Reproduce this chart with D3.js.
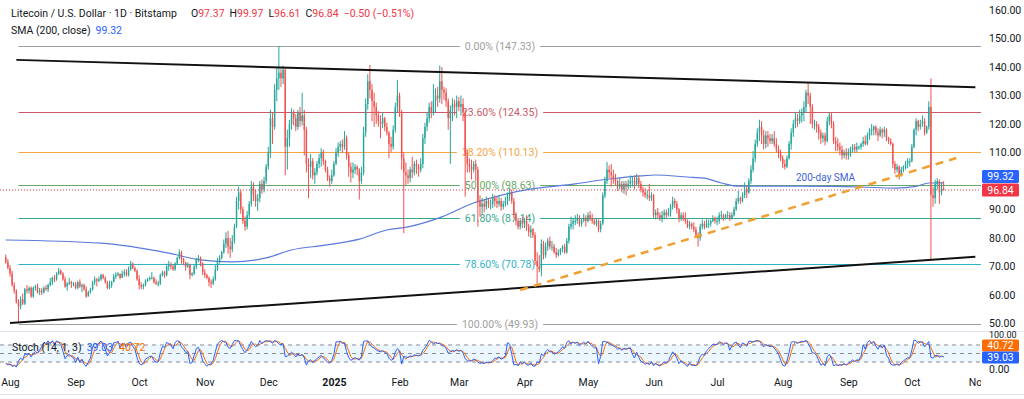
<!DOCTYPE html>
<html>
<head>
<meta charset="utf-8">
<script src="https://cdn.jsdelivr.net/npm/d3@7"></script>
<style>
  html, body { margin: 0; padding: 0; background: #fff; }
  svg { display: block; font-family: Roboto, "Liberation Sans", sans-serif; }
</style>
</head>
<body>
<svg id="chart" width="1024" height="399"></svg>
<script>
// daily candles, one array per month, rows are [high, low, close]; open = previous close
const firstOpen = 73.3;
const jul24 = [[74.2,71,71.5],[72.6,69,69.5]];
const aug24 = [[70.5,66.5,67.5],[68.5,63,63.5],[64.5,60.5,61.5],[62,57,57.5],[58.5,50.5,56],[59.5,55,58.5],[60.5,56.5,57],[62.5,56.5,62],[63.5,60.5,61.5],[63,60.5,62.5],[63,59,59.5],[63,59,62.5],[63.5,61.5,63],[64,60.5,61],[62.5,60,61.5],[62.5,60,61],[63,60.5,62.5],[63.5,61.5,62],[64,61,63.5],[66,63,64.5],[66.5,63.5,66],[67,64.5,65.5],[68,65,67.5],[69.5,67,68.5],[69,67,67.5],[68,65,65.5],[66.5,62.5,63],[64.5,61.5,64],[66,63.5,64.5],[65,62.5,64],[64.5,63,64]];
const sep24 = [[64.5,62,62.5],[65,62,64.5],[65.5,62.5,63],[64,61,63.5],[64,61.5,62],[63,59,59.5],[61.5,59.5,61],[62.5,60.5,62],[65,61.5,64.5],[66.5,63.5,65.5],[66,63,65],[66.5,64.5,65.5],[67.5,65,67],[67.5,65.5,66],[66.5,64,64.5],[65,62,62.5],[65,62,63.5],[65,62.5,64.5],[67.5,64.5,66.5],[68,65.5,67],[68,66.5,67.5],[67.5,65.5,66],[68.5,66,67.5],[69,66.5,68],[69,66.5,67],[70,66.5,69],[72,68.5,71],[71.5,69,69.5],[70,68,68.5],[69,65,65.5]];
const oct24 = [[67,62,63.5],[64.5,62,63],[64,62,63.5],[65.5,63,65],[66,64.5,65.5],[66.5,65,66],[68,65.5,66],[66.5,64,64.5],[65.5,63.5,64],[65,63,64],[67.5,63.5,67],[68.5,66.5,68],[68.5,66,67],[71,66.5,70],[72,68.5,70.5],[71.5,69,70],[70.5,68.5,69],[71.5,68.5,71],[73.5,70.5,73],[76,72.5,75],[75.5,71,72.5],[73,70.5,71.5],[71.5,68.5,70],[71.5,69.5,70.5],[71,65.5,67],[68,66.5,67.5],[70.5,67,70],[73,69,72.5],[74,71.5,73],[73.5,70,71],[71.5,67,68]];
const nov24 = [[69,66,67],[67.5,65.5,66],[66.5,63,64.5],[65.5,62.5,64],[66.5,63.5,65.5],[70.5,65,69],[73,68.5,72],[74,71,73],[75.5,72.5,75],[79.5,74.5,78],[82,76.5,80],[82.5,74.5,77],[80,73,76],[81,75,79],[85,78,84],[94.5,83.5,93],[98,90,96],[97,88.5,90],[91,85,86],[87.5,82.5,84],[89.5,83,88],[93,87,92],[100,91,98],[99.5,93,95],[97,91,93],[95.5,89.5,94],[100,92.5,99],[100.5,95.5,97],[101.5,96,100],[106,99,105]];
const dec24 = [[112,104,110],[125,108,122],[124,113,119],[134,118,132],[140,128,136],[147.33,132,138],[139.5,133,136],[140.5,134,139],[139.5,102,112],[118,104,115],[121.5,112,120],[125.5,118,124],[125,119.5,122],[123.5,117.5,119],[125,118,124],[126,119,121],[131,119.5,123],[125,109,118],[119,103,106],[108,94,105],[109.5,101,107],[108,100.5,102],[104.5,99,103],[107,102,106],[109.5,104.5,108],[111.5,105,110],[111,105.5,107],[107.5,103,104],[105,100,101],[102,98,100],[104,99,102]];
const jan25 = [[107,101.5,106],[111.5,105.5,110],[113.5,108.5,112],[114,110.5,113],[114.5,110,112],[117.5,111,115],[116,107.5,109],[110,101.5,105],[106.5,99.5,103],[106.5,101,104],[106,102.5,105],[105.5,102,104],[104.5,93.5,100],[105,99,103],[119,102,117],[129,115.5,127],[137.5,125,135],[140.7,129,132],[134,121,128],[131,119,126],[127.5,120,123],[124.5,119,121],[123,115,120],[124,118.5,122],[122.5,117.5,119],[120.5,116,117],[117.5,108,113],[115.5,110,112],[119.5,111,118],[127.5,117,126],[135.5,124,130]];
const feb25 = [[131,122.5,124],[125,104,108],[110,81.7,103],[106.5,98.5,102],[104,99,101],[105,99.5,104],[108.5,101,103],[107,102,106],[107.5,102.5,105],[106,101.5,104],[108,103,106],[116.5,104.5,115],[120.5,113,119],[124,117.5,122],[127.5,120.5,126],[128,122,124],[134,123,128],[132.5,124,130],[133,126,129],[140.5,127.5,135],[140,127,132],[133,128.5,131],[132.5,126,128],[129,118,122],[126.5,106,125],[129,121,127],[128.5,123,126],[130,122,128]];
const mar25 = [[129.5,124.5,126],[130,123,127],[129,121,124],[125,94.5,109],[111,103,106],[108,103,105],[107.5,100.5,104],[107,103,106],[107.5,100,104],[105,84,93],[95,87.5,91],[94,88.5,92],[93.5,89,91],[94.5,90,93],[94,90.5,92],[93.5,90,92],[95.5,90.5,94],[95,91,93],[94.5,90.5,92],[95,91,93],[94,89.5,91],[93,90,92],[94.5,91,93],[96,91.5,95],[97.5,93,96],[97,92,93],[94,87,88],[89,84.5,86],[87,83,84],[87,83,86],[87.5,83.5,85]];
const apr25 = [[87,83.5,86],[88,82.5,84],[85,80.5,82],[84.5,80,83],[83.5,80,81],[82,70.5,72],[75,63,70],[74,68,69],[79.5,66.5,78],[79,72.5,74],[78.5,73,77],[80,75.5,79],[80.5,76,77],[79,75.5,77],[78,74.5,75],[76.5,73,74],[76,73.5,75],[76.5,74,76],[77.5,75,77],[78,74.5,75],[80,74.5,79],[85,78,84],[87.5,83,85],[87,83,86],[88,84.5,86],[88.5,85,87],[88,84,85],[87,84,86],[88.5,85.5,87],[88,84,86]];
const may25 = [[89,85.5,88],[89.5,86,87],[88.5,85,86],[87,84.5,85],[87,84,86],[86.5,82,83],[86,82,85],[96,84.5,95],[101.5,94,100],[106.7,99,104],[105.5,101,103],[106,98,102],[104,99,101],[102.5,98.5,100],[100.5,96.5,98],[101,97,99],[100,96,97],[100,95.5,99],[100,95,98],[100.5,97,99],[102,97.5,100],[101.5,98,100],[102,97,99],[102.5,98.5,101],[102,97.5,99],[100,96,97],[98,94.5,96],[97.5,94,95],[97,93.5,95],[99,93,94],[96,93,95]];
const jun25 = [[95.5,87,88],[90,86.5,89],[90.5,87,88],[89,86,87],[89.5,85.5,88],[90,86.5,89],[90,87,88],[90.5,87.5,89],[92,87.5,91],[94.5,90,93],[94,90.5,92],[93,88.5,90],[90.5,85.5,87],[89,86,88],[89,86,87],[89,85,86],[86.5,83.5,84],[86,83,85],[85.5,83,84],[85.5,82,83],[84,80,81],[82,77,80],[85,79,84],[86.5,83,85],[86,83,84],[86.5,83.5,85],[86.5,83.5,85],[86.5,84,86],[88,85.5,87],[87.5,85,86]];
const jul25 = [[87.5,84.5,86],[89,85,88],[89.5,86.5,88],[88.5,86,87],[88.5,86.5,88],[89.5,87,88],[89,86,87],[89,86.5,88],[91,87.5,90],[94,89.5,93],[96.5,92,94],[94.5,92,93],[96,92.5,95],[99.5,94,97],[98.5,94,96],[101,95.5,100],[105.5,99,104],[110.5,103,108],[114.5,106.5,113],[118.5,112,117],[121.5,114,119],[121,113,116],[118,111,113],[117.5,111.5,116],[117.5,112,115],[116.5,113,114],[116.5,113,115],[117.5,112,113],[115,110,111],[112.5,108,110],[111,107,108]];
const aug25 = [[109,104.5,106],[107.5,104,105],[109,104.5,108],[114,107.5,113],[118.5,111,117],[121.5,115.5,120],[124,118.5,122],[123.5,119,121],[125,120,123],[125.5,120.5,124],[128,121,126],[132,124,131],[134.7,127,130],[131,120,126],[127,118.5,120],[121.5,118,120],[121,117,119],[120,114.5,117],[118,113,115],[117,113.5,116],[117,112.5,114],[122.5,113.5,121],[124,119.5,123],[124,118.5,120],[121,113,114],[115.5,110.5,113],[115,110.5,112],[113.5,109,111],[112.5,107.5,109],[111,108,110],[111.5,107.5,109]];
const sep25 = [[111.5,107.5,110],[112,108.5,111],[113,110,112],[113,110,111],[113.5,110,112],[112.5,111,112],[113.5,111,113],[115.5,112,114],[116,112.5,113],[117,112.5,116],[118.5,114.5,118],[120,116,118],[119.5,116,119],[119.5,116,117],[118.5,114,116],[119,115.5,118],[118.5,115,117],[119,115.5,118],[118.5,114,115],[115.5,113,114],[115,112.5,113],[113.5,104.5,106],[107,102.5,104],[106,103,105],[105.5,100.5,102],[105,101.5,104],[105.5,103,105],[107,104,106],[108,104.5,107],[108,105,107]];
const oct25 = [[113,106.5,112],[118.5,111.5,118],[122,116,121],[121.5,117.5,119],[121.5,118,120],[123,119,121],[122,116,117],[119.5,116.5,119],[128,118,126],[136,72,95],[98,91,94],[100.5,92,99],[101,97,100],[100.5,92,96],[99.5,95,97.37],[99.97,96.61,96.84]];

const months = [
  ["2024-07-30", jul24], ["2024-08-01", aug24], ["2024-09-01", sep24], ["2024-10-01", oct24],
  ["2024-11-01", nov24], ["2024-12-01", dec24], ["2025-01-01", jan25], ["2025-02-01", feb25],
  ["2025-03-01", mar25], ["2025-04-01", apr25], ["2025-05-01", may25], ["2025-06-01", jun25],
  ["2025-07-01", jul25], ["2025-08-01", aug25], ["2025-09-01", sep25], ["2025-10-01", oct25]
];

// 200-day SMA
const smaPoints = [["2024-07-30",79.3],["2024-09-13",78.2],["2024-10-15",74.7],["2024-10-30",72.3],["2024-11-14",71.6],["2024-11-30",73],["2024-12-12",75.8],["2024-12-28",77.5],["2025-01-13",79.6],["2025-01-26",82.8],["2025-02-05",83.9],["2025-02-21",87.4],["2025-03-08",92.3],["2025-03-16",94],["2025-04-01",96.8],["2025-04-25",99],["2025-05-11",100.7],["2025-05-26",101.8],["2025-06-02",102.1],["2025-06-17",101.4],["2025-06-25",101],["2025-07-03",99.3],["2025-07-11",98.2],["2025-07-24",98.2],["2025-08-10",98.2],["2025-09-07",97.9],["2025-09-23",97.5],["2025-10-03",98.1],["2025-10-09",99.3],["2025-10-16",99.32]];

// fibonacci retracement
const fibStart = "2024-08-05";
const fibRatios = ["0.00%", "23.60%", "38.20%", "50.00%", "61.80%", "78.60%", "100.00%"];
const fibValues = [147.33, 124.35, 110.13, 98.63, 87.14, 70.78, 49.93];

// drawn trend lines [date, price]
const upperLine = [["2024-08-04", 142.5], ["2025-10-31", 132.9]];
const lowerLine = [["2024-08-01", 50.2], ["2025-10-31", 73.4]];
const supportLine = [["2025-03-30", 61.75], ["2025-10-22", 108.07]];

// 100.00 sits under the price badges, so it is not labelled
const priceTicks = [50, 60, 70, 80, 90, 110, 120, 130, 140, 150, 160];
const stochTicks = [0, 100];
const stochLevels = [80, 50, 20];
const lastClose = 96.84, smaLast = 99.32, stochK = 39.03, stochD = 40.72;
const ohlcText = [["O", "97.37"], ["H", "99.97"], ["L", "96.61"], ["C", "96.84"]];

const style = {
  up: "#26a69a", down: "#ef5350", text: "#131722",
  red: "#f23645", blue: "#2962ff", orange: "#ff6d00", sma: "#5b7bdc",
  fib: ["#9e9e9e", "#cc5866", "#f5a444", "#67a867", "#35a78c", "#2fb3c9", "#9e9e9e"]
};

const parse = d3.timeParse("%Y-%m-%d");

const candles = [];
let prev = firstOpen;
months.forEach(([start, rows]) => {
  const d0 = parse(start);
  rows.forEach(([h, l, c], i) => {
    candles.push({date: d3.timeDay.offset(d0, i), open: prev, high: h, low: l, close: c});
    prev = c;
  });
});

// stochastic (14, 1, 3)
const K = candles.map((c, i) => {
  const win = candles.slice(Math.max(0, i - 13), i + 1);
  const hh = d3.max(win, d => d.high), ll = d3.min(win, d => d.low);
  return hh === ll ? 50 : (c.close - ll) / (hh - ll) * 100;
});
const D = K.map((k, i) => d3.mean(K.slice(Math.max(0, i - 2), i + 1)));

const plotRight = 981;
const x = d3.scaleTime().domain([parse("2024-08-01"), parse("2025-11-01")]).range([10, 977.5]);
const y = d3.scaleLinear().domain([50, 160]).range([323.5, 10]);
const yS = d3.scaleLinear().domain([0, 100]).range([367.7, 339.3]);

const svg = d3.select("#chart");
const defs = svg.append("defs");
defs.append("clipPath").attr("id", "clipPrice")
  .append("rect").attr("x", 0).attr("y", 0).attr("width", plotRight).attr("height", 331);
defs.append("clipPath").attr("id", "clipStoch")
  .append("rect").attr("x", 0).attr("y", 332).attr("width", 1024).attr("height", 42);
defs.append("clipPath").attr("id", "clipTime")
  .append("rect").attr("x", 0).attr("y", 374).attr("width", plotRight).attr("height", 25);

svg.append("rect").attr("width", 1024).attr("height", 399).attr("fill", "#fff");

// pane borders
svg.append("line").attr("x1", 0).attr("x2", 1024).attr("y1", 331.5).attr("y2", 331.5)
  .attr("stroke", "#e0e3eb");
svg.append("line").attr("x1", 0).attr("x2", 1024).attr("y1", 394.5).attr("y2", 394.5)
  .attr("stroke", "#e0e3eb");

const price = svg.append("g").attr("clip-path", "url(#clipPrice)");

// fib levels, broken around their label
const fibG = price.append("g");
fibRatios.forEach((r, i) => {
  const v = fibValues[i], col = style.fib[i], yy = Math.round(y(v)) + 0.5;
  const label = fibG.append("text")
    .attr("x", 500).attr("y", yy).attr("dy", "0.35em")
    .attr("text-anchor", "middle")
    .attr("fill", col)
    .style("font-size", "10.5px")
    .text(`${r} (${v.toFixed(2)})`);
  const w = label.node().getComputedTextLength();
  fibG.append("line")
    .attr("x1", x(parse(fibStart))).attr("x2", 500 - w / 2 - 5)
    .attr("y1", yy).attr("y2", yy)
    .attr("stroke", col);
  fibG.append("line")
    .attr("x1", 500 + w / 2 + 5).attr("x2", plotRight)
    .attr("y1", yy).attr("y2", yy)
    .attr("stroke", col);
});

// last price dotted line
price.append("line")
  .attr("x1", 0).attr("x2", plotRight)
  .attr("y1", y(lastClose)).attr("y2", y(lastClose))
  .attr("stroke", style.red).attr("stroke-dasharray", "1,2");

// 200 SMA
price.append("path")
  .datum(smaPoints)
  .attr("fill", "none")
  .attr("stroke", style.sma)
  .attr("stroke-width", 1.2)
  .attr("d", d3.line().curve(d3.curveMonotoneX).x(d => x(parse(d[0]))).y(d => y(d[1])));

price.append("text")
  .attr("x", 796).attr("y", 181)
  .attr("fill", "#3f63d6")
  .style("font-size", "10px")
  .text("200-day SMA");

// candles
const bw = (x(parse("2025-01-02")) - x(parse("2025-01-01"))) * 0.68;
const cg = price.append("g")
  .selectAll("g")
  .data(candles)
  .join("g")
    .attr("fill", d => d.close >= d.open ? style.up : style.down)
    .attr("stroke", d => d.close >= d.open ? style.up : style.down);
cg.append("line")
  .attr("x1", d => x(d.date)).attr("x2", d => x(d.date))
  .attr("y1", d => y(d.high)).attr("y2", d => y(d.low))
  .attr("stroke-width", 1);
cg.append("rect")
  .attr("stroke", "none")
  .attr("x", d => x(d.date) - bw / 2)
  .attr("width", bw)
  .attr("y", d => y(Math.max(d.open, d.close)))
  .attr("height", d => Math.max(1, Math.abs(y(d.open) - y(d.close))));

// trend lines
const tline = d3.line().x(d => x(parse(d[0]))).y(d => y(d[1]));
price.append("path").datum(upperLine).attr("d", tline)
  .attr("stroke", "#111").attr("stroke-width", 2).attr("fill", "none");
price.append("path").datum(lowerLine).attr("d", tline)
  .attr("stroke", "#111").attr("stroke-width", 2).attr("fill", "none");
price.append("path").datum(supportLine).attr("d", tline)
  .attr("stroke", "#f0a030").attr("stroke-width", 2.5)
  .attr("stroke-dasharray", "8,6").attr("fill", "none");

// price axis
const yAxis = svg.append("g")
  .attr("transform", `translate(${plotRight},0)`)
  .call(d3.axisRight(y).tickValues(priceTicks).tickFormat(d3.format(".2f")).tickSize(0).tickPadding(8));
yAxis.select(".domain").remove();
yAxis.selectAll("text").attr("fill", style.text).style("font-size", "10.5px")
  .style("font-family", "Roboto, sans-serif");

function badge(yc, col, txt, h = 13) {
  svg.append("rect")
    .attr("x", 982).attr("y", yc - h / 2).attr("width", 37).attr("height", h).attr("rx", 1.5)
    .attr("fill", col);
  svg.append("text")
    .attr("x", 1000.5).attr("y", yc).attr("dy", "0.35em")
    .attr("text-anchor", "middle").attr("fill", "#fff")
    .style("font-size", "10.5px")
    .text(txt);
}
badge(176.5, style.blue, smaLast.toFixed(2));
badge(190, style.red, lastClose.toFixed(2));

// stochastic pane
const stoch = svg.append("g").attr("clip-path", "url(#clipStoch)");
stoch.append("rect")
  .attr("x", 0).attr("width", plotRight)
  .attr("y", yS(80)).attr("height", yS(20) - yS(80))
  .attr("fill", "rgba(33,150,243,0.09)");
stoch.selectAll("line.lvl")
  .data(stochLevels)
  .join("line")
    .attr("class", "lvl")
    .attr("x1", 0).attr("x2", plotRight)
    .attr("y1", d => yS(d)).attr("y2", d => yS(d))
    .attr("stroke", "#8a8e99").attr("stroke-dasharray", "4,4");

const sline = d3.line().x((d, i) => x(candles[i].date)).y(d => yS(d));
stoch.append("path").datum(D).attr("d", sline)
  .attr("fill", "none").attr("stroke", style.orange).attr("stroke-width", 1);
stoch.append("path").datum(K).attr("d", sline)
  .attr("fill", "none").attr("stroke", style.blue).attr("stroke-width", 1);

const sAxis = svg.append("g")
  .attr("transform", `translate(${plotRight},0)`)
  .call(d3.axisRight(yS).tickValues(stochTicks).tickFormat(d3.format(".2f")).tickSize(0).tickPadding(8));
sAxis.select(".domain").remove();
sAxis.selectAll("text").attr("fill", style.text).style("font-size", "10.5px")
  .style("font-family", "Roboto, sans-serif");
// top label squeezed against the pane border, as in the terminal
sAxis.selectAll(".tick").filter(d => d === 100).select("text")
  .attr("y", -4.8).style("font-size", "9px");
sAxis.selectAll(".tick").filter(d => d === 0).select("text").attr("y", 1.5);

badge(345.5, style.orange, stochD.toFixed(2), 12);
badge(357.5, style.blue, stochK.toFixed(2), 12);

const sLeg = svg.append("text").attr("x", 12).attr("y", 347).attr("dy", "0.35em")
  .style("font-size", "10.5px");
sLeg.append("tspan").attr("fill", style.text).text("Stoch (14, 1, 3)");
sLeg.append("tspan").attr("dx", 5).attr("fill", style.blue).text(stochK.toFixed(2));
sLeg.append("tspan").attr("dx", 6).attr("fill", style.orange).text(stochD.toFixed(2));

// time axis
const monthTicks = d3.timeMonth.range(parse("2024-08-01"), parse("2025-11-02"));
const xAxis = svg.append("g")
  .attr("clip-path", "url(#clipTime)")
  .append("g")
  .attr("transform", "translate(0,373)")
  .call(d3.axisBottom(x).tickValues(monthTicks)
    .tickFormat(d => d.getMonth() === 0 ? d3.timeFormat("%Y")(d) : d3.timeFormat("%b")(d))
    .tickSize(0).tickPadding(6));
xAxis.select(".domain").remove();
xAxis.selectAll("text")
  .attr("fill", style.text)
  .style("font-size", "10.5px")
  .style("font-family", "Roboto, sans-serif")
  .style("font-weight", d => d.getMonth() === 0 ? "bold" : null);

// header legend
const head = svg.append("text").attr("x", 11).attr("y", 13).attr("dy", "0.35em")
  .style("font-size", "10.5px");
head.append("tspan").attr("fill", style.text).text("Litecoin / U.S. Dollar · 1D · Bitstamp");
ohlcText.forEach(([k, v], i) => {
  head.append("tspan").attr("dx", i === 0 ? 14 : 5).attr("fill", style.text).text(k);
  head.append("tspan").attr("fill", style.red).text(v);
});
head.append("tspan").attr("dx", 5).attr("fill", style.red).text("−0.50 (−0.51%)");

const head2 = svg.append("text").attr("x", 11).attr("y", 30).attr("dy", "0.35em")
  .style("font-size", "10.5px");
head2.append("tspan").attr("fill", style.text).text("SMA (200, close)");
head2.append("tspan").attr("dx", 5).attr("fill", style.blue).text(smaLast.toFixed(2));
</script>
</body>
</html>
